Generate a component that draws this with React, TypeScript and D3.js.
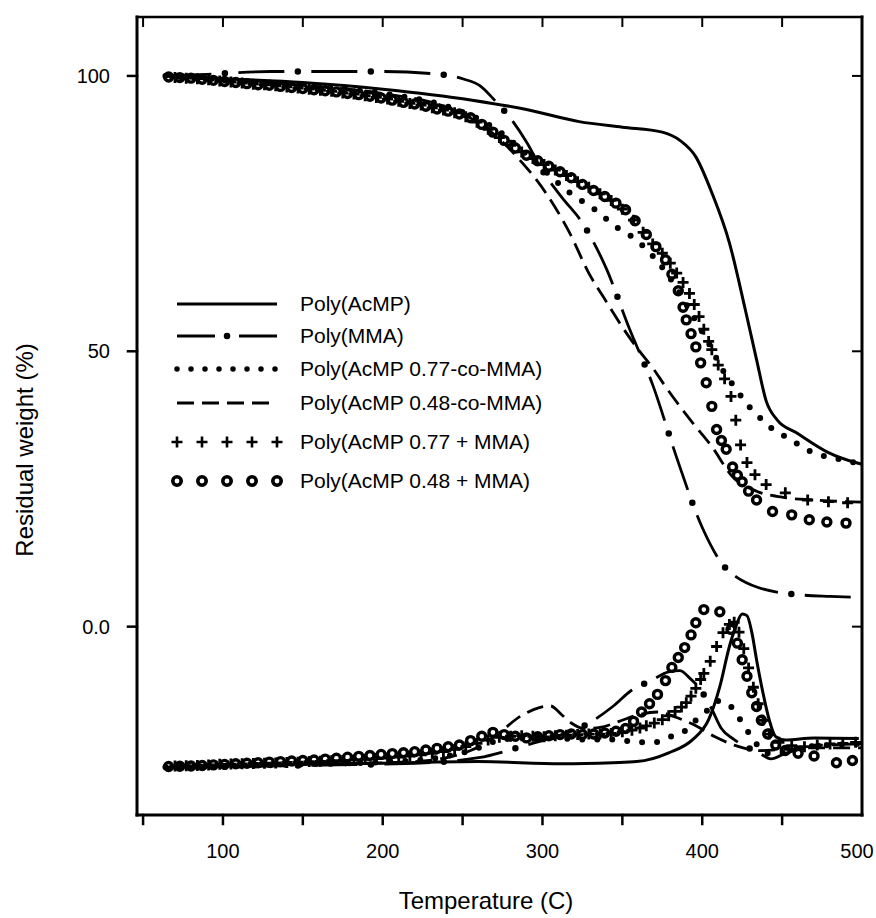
import * as d3 from "d3";
import { useEffect, useRef } from "react";

type Pt = [number, number];

// upper curves: residual weight (%) vs temperature (C)
const acmpTga: Pt[] = [[64,100],[100,99.5],[150,98.8],[200,97.6],[256,95.6],[290,93.9],[323,91.7],[350,90.7],[375,89.8],[386,88.3],[396,85.3],[406,78.8],[417,69.7],[427,57.5],[434,48.5],[440,41],[447,37.5],[459,35.2],[479,31.6],[496,29.8],[500,29.5]];
const mmaTga: Pt[] = [[64,100],[90,100.3],[130,100.8],[200,100.8],[235,100.3],[251,99.4],[261,98.2],[270,95.6],[280,92.3],[290,88],[300,82.8],[312,78],[325,73.3],[340,65],[354,54.4],[369,43.9],[384,30.7],[400,18],[415,10.5],[421,9.1],[435,7.1],[448,6.2],[460,5.8],[480,5.5],[500,5.3]];
const co77Tga: Pt[] = [[64,100],[100,99.2],[150,98.3],[200,96.8],[240,94.5],[270,90.5],[295,84.5],[317,78.8],[333,75.7],[347,72.4],[356,70.8],[370,67],[385,61],[395,56],[405,51],[412,47],[420,43.6],[426,41.2],[431,39.4],[439,37.2],[446,35.4],[454,34.3],[462,32.7],[473,31.2],[481,30.7],[500,29.5]];
const co48Tga: Pt[] = [[64,100],[100,99.2],[150,98.3],[200,96.8],[240,94.3],[265,90.5],[285,85],[302,78.8],[317,71.5],[329,64.2],[340,59],[350,54.4],[360,50.3],[369,47],[377,43.6],[394,37],[406,32.7],[419,27.2],[434,24.6],[450,23.5],[470,23],[500,22.6]];
const mix77Tga: Pt[] = [[70,99.7],[77,99.6],[84,99.5],[91,99.3],[98,99.1],[105,98.9],[112,98.7],[119,98.5],[126,98.4],[133,98.2],[140,98],[147,97.8],[154,97.6],[161,97.4],[168,97.2],[175,96.9],[182,96.7],[189,96.4],[196,96.1],[203,95.8],[210,95.4],[217,95],[224,94.7],[231,94.2],[238,93.8],[245,93.3],[252,92.6],[259,91.6],[266,90.3],[273,88.8],[280,87.4],[287,86.2],[294,85],[301,83.9],[308,82.9],[315,81.9],[322,80.8],[329,79.8],[336,78.6],[343,77.4],[350,75.8],[357,73.8],[363,71.6],[369,69.5],[375,67.8],[380,66],[384,64.2],[388,62.5],[392,60.5],[395,58.5],[398,56.3],[401,54],[404,51.8],[406,50.3],[410,47.5],[414,45],[418,41.8],[421,37.5],[424,33],[428,29.8],[433,27.6],[440,25.8],[452,24.3],[466,23],[479,22.7],[491,22.5]];
const mix48Tga: Pt[] = [[66,99.8],[73,99.7],[80,99.6],[87,99.4],[94,99.2],[101,99],[108,98.8],[115,98.6],[122,98.4],[129,98.3],[136,98.1],[143,97.9],[150,97.7],[157,97.5],[164,97.3],[171,97.1],[178,96.8],[185,96.6],[192,96.3],[199,96],[206,95.6],[213,95.2],[220,94.9],[227,94.5],[234,94],[241,93.6],[248,93.1],[255,92.4],[262,91.2],[269,89.8],[276,88.3],[283,86.9],[290,85.6],[297,84.6],[304,83.6],[311,82.6],[318,81.5],[325,80.3],[332,79.2],[339,78.1],[346,76.9],[352,75.7],[358,73.7],[365,71.2],[371,69],[377,66.6],[381,64],[385,61],[388,58],[390,55.7],[393,53.2],[396,50.8],[399,47.9],[402.5,44.3],[406,40],[409,35.8],[412,33.8],[415,32.2],[419,29],[422,27.5],[425,26.3],[429,24.6],[434,23],[444,20.9],[456,20.3],[467,19.4],[478,19],[490,18.8]];

// lower curves (derivative traces, same axis units)
const acmpDtg: Pt[] = [[64,-25.6],[100,-25.3],[150,-25],[200,-24.8],[260,-24.5],[312,-24.9],[344,-24.7],[359,-24.5],[379,-22.9],[394,-20.5],[404,-16.9],[411,-10.9],[417,-3.6],[421,0],[425,2.3],[428,2],[431,-1],[434,-6],[438,-12],[442,-17],[446,-20],[452,-20.6],[470,-20.2],[498,-20.3]];
const mmaDtg: Pt[] = [[64,-25.6],[150,-25.2],[220,-24.8],[260,-23.8],[290,-21.5],[310,-19.8],[326,-18],[344,-14.5],[356,-11.5],[368,-9.8],[379,-8.2],[386,-8],[392,-9.3],[399,-11.5],[406,-15],[412,-18.5],[420,-20.5],[436,-23],[443,-24],[452,-23],[465,-22],[480,-21.5],[500,-21.3]];
const co77Dtg: Pt[] = [[64,-25.5],[150,-25],[220,-24.3],[255,-22.5],[275,-20.5],[300,-20],[325,-20.5],[345,-20.5],[360,-21],[370,-21],[380,-20],[388,-19.2],[396,-17],[404,-15],[410,-13.5],[416,-14],[424,-17],[432,-20.5],[440,-23],[448,-23],[460,-22],[480,-21.5],[500,-21.3]];
const co48Dtg: Pt[] = [[64,-25.5],[150,-25],[220,-24.5],[255,-22.5],[272,-19.5],[286,-16.3],[298,-14.7],[305,-14.4],[312,-16],[318,-17.5],[326,-18.5],[336,-18.3],[348,-17.2],[360,-16],[372,-15.5],[384,-16.5],[396,-18],[408,-20],[420,-21.5],[436,-22.5],[450,-22.3],[470,-22],[500,-22]];
const mix77Dtg: Pt[] = [[70,-25.3],[77,-25.25],[84,-25.2],[91,-25.1],[98,-25],[105,-24.95],[112,-24.9],[119,-24.85],[126,-24.8],[133,-24.75],[140,-24.65],[147,-24.6],[154,-24.5],[161,-24.45],[168,-24.35],[175,-24.3],[182,-24.2],[189,-24.1],[196,-23.95],[203,-23.85],[210,-23.7],[217,-23.5],[224,-23.3],[231,-23],[238,-22.7],[245,-22.3],[252,-21.8],[259,-21.2],[266,-20.6],[273,-20.1],[280,-19.9],[287,-19.8],[294,-19.9],[301,-20],[308,-19.8],[315,-19.7],[322,-19.6],[329,-19.5],[336,-19.5],[343,-19.4],[350,-19.1],[356,-18.8],[361,-18.4],[365,-18],[370,-17.5],[375,-16.9],[379,-16.2],[383,-15.4],[387,-14.6],[390,-13.8],[393,-12.6],[396,-11.2],[399,-9.6],[401,-8.5],[405,-6.3],[409,-3.6],[413,-1.1],[417,0.4],[420,0.8],[423,-1],[426,-4],[429,-7.5],[432,-11],[435,-14],[438,-17],[442,-19.5],[448,-21],[456,-21.6],[464,-21.8],[472,-21.5],[480,-21.3],[488,-21.2],[496,-21]];
const mix48Dtg: Pt[] = [[66,-25.4],[73,-25.35],[80,-25.3],[87,-25.2],[94,-25.1],[101,-25],[108,-24.9],[115,-24.8],[122,-24.7],[129,-24.6],[136,-24.5],[143,-24.4],[150,-24.3],[157,-24.2],[164,-24.05],[171,-23.9],[178,-23.7],[185,-23.55],[192,-23.4],[199,-23.2],[206,-23.05],[213,-22.9],[220,-22.7],[227,-22.4],[234,-22.1],[241,-21.8],[248,-21.5],[255,-20.7],[262,-19.9],[269,-19.2],[276,-19.6],[283,-19.9],[290,-20.2],[297,-20],[304,-19.8],[311,-19.6],[318,-19.5],[325,-19.6],[332,-19.5],[339,-19.3],[346,-19],[352,-18.5],[357,-17.2],[362,-15.5],[367,-14],[372,-12.3],[377,-9.8],[381,-7.4],[385,-5.6],[389,-3.8],[393,-1.5],[396,0.7],[401,3.1],[411,2.7],[418,-0.5],[422,-3],[425,-6],[428,-9],[431,-12],[434,-14.5],[437,-17],[441,-19.5],[446,-21.5],[452,-22.5],[460,-23],[470,-23.5],[484,-24.7],[494,-24.3]];

const legendLabels = [
  "Poly(AcMP)",
  "Poly(MMA)",
  "Poly(AcMP 0.77-co-MMA)",
  "Poly(AcMP 0.48-co-MMA)",
  "Poly(AcMP 0.77 + MMA)",
  "Poly(AcMP 0.48 + MMA)",
];
const xTicks = [100, 200, 300, 400, 500];
const xMinorTicks = [50, 150, 250, 350, 450];
const yTicks = [0, 50, 100];
const yTickLabels = ["0.0", "50", "100"];

const W = 876;
const H = 918;
const L = 137, R = 862, T = 17, B = 815;
const FONT = "'Liberation Sans', Arial, Helvetica, sans-serif";
const legendRowY = [304, 336, 369, 403, 442, 481];

export default function App() {
  const ref = useRef<SVGSVGElement>(null);

  useEffect(() => {
    const svg = d3.select(ref.current);
    svg.selectAll("*").remove();

    const x = d3.scaleLinear().domain([46.2, 500]).range([L, R]);
    const y = d3.scaleLinear().domain([-34.2, 110.7]).range([B, T]);

    const line = d3
      .line<Pt>()
      .x((d) => x(d[0]))
      .y((d) => y(d[1]))
      .curve(d3.curveMonotoneX);

    const g = svg.append("g").attr("fill", "none").attr("stroke", "#000");

    const drawSolid = (data: Pt[]) =>
      g.append("path").attr("d", line(data)).attr("stroke-width", 3).attr("stroke-linejoin", "round");

    const drawDashDot = (data: Pt[]) => {
      g.append("path").attr("d", line(data)).attr("stroke-width", 2.8).attr("stroke-dasharray", "46 27");
      g.append("path")
        .attr("d", line(data))
        .attr("stroke-width", 6.5)
        .attr("stroke-linecap", "round")
        .attr("stroke-dasharray", "0 73")
        .attr("stroke-dashoffset", 13.5);
    };

    const drawDotted = (data: Pt[]) =>
      g.append("path")
        .attr("d", line(data))
        .attr("stroke-width", 6)
        .attr("stroke-linecap", "round")
        .attr("stroke-dasharray", "0 15");

    const drawDashed = (data: Pt[]) =>
      g.append("path").attr("d", line(data)).attr("stroke-width", 2.8).attr("stroke-dasharray", "17 8");

    const plusPath = "M-5.5,0H5.5M0,-5.5V5.5";
    const drawPlus = (data: Pt[]) =>
      g.append("g")
        .selectAll("path")
        .data(data)
        .join("path")
        .attr("d", plusPath)
        .attr("stroke-width", 2.8)
        .attr("transform", (d) => `translate(${x(d[0])},${y(d[1])})`);

    const drawCircles = (data: Pt[]) =>
      g.append("g")
        .selectAll("circle")
        .data(data)
        .join("circle")
        .attr("cx", (d) => x(d[0]))
        .attr("cy", (d) => y(d[1]))
        .attr("r", 4)
        .attr("fill", "none")
        .attr("stroke-width", 3.4);

    drawSolid(acmpTga);
    drawSolid(acmpDtg);
    drawDashDot(mmaTga);
    drawDashDot(mmaDtg);
    drawDotted(co77Tga);
    drawDotted(co77Dtg);
    drawDashed(co48Tga);
    drawDashed(co48Dtg);
    drawCircles(mix48Tga);
    drawCircles(mix48Dtg);
    drawPlus(mix77Tga);
    drawPlus(mix77Dtg);

    // frame
    const frame = svg.append("g").attr("stroke", "#000").attr("stroke-linecap", "square");
    frame.append("line").attr("x1", L).attr("x2", L).attr("y1", T).attr("y2", B).attr("stroke-width", 3);
    frame.append("line").attr("x1", L).attr("x2", R).attr("y1", B).attr("y2", B).attr("stroke-width", 3);
    frame.append("line").attr("x1", L).attr("x2", R).attr("y1", T).attr("y2", T).attr("stroke-width", 2.5);
    frame.append("line").attr("x1", R).attr("x2", R).attr("y1", T).attr("y2", B).attr("stroke-width", 3);

    const allX = [...xMinorTicks, ...xTicks].filter((v) => v < 500);
    frame.selectAll(".bt").data(allX).join("line")
      .attr("x1", (d) => x(d)).attr("x2", (d) => x(d))
      .attr("y1", B).attr("y2", B + 9).attr("stroke-width", 2.5);
    frame.selectAll(".tt").data(allX).join("line")
      .attr("x1", (d) => x(d)).attr("x2", (d) => x(d))
      .attr("y1", T).attr("y2", T + 9).attr("stroke-width", 2);
    frame.selectAll(".lt").data(yTicks).join("line")
      .attr("x1", L - 9).attr("x2", L)
      .attr("y1", (d) => y(d)).attr("y2", (d) => y(d)).attr("stroke-width", 2.5);
    frame.selectAll(".rt").data(yTicks).join("line")
      .attr("x1", R - 9).attr("x2", R)
      .attr("y1", (d) => y(d)).attr("y2", (d) => y(d)).attr("stroke-width", 2);

    const txt = svg.append("g").attr("font-family", FONT).attr("fill", "#000");
    txt.selectAll(".xl").data(xTicks).join("text")
      .attr("x", (d) => Math.min(x(d), 857)).attr("y", 858)
      .attr("text-anchor", "middle").attr("font-size", 20)
      .text((d) => d);
    txt.selectAll(".yl").data(yTicks).join("text")
      .attr("x", 110).attr("y", (d) => y(d) + 7)
      .attr("text-anchor", "end").attr("font-size", 20)
      .text((d, i) => yTickLabels[i]);
    txt.append("text")
      .attr("x", 486).attr("y", 909)
      .attr("text-anchor", "middle").attr("font-size", 24)
      .text("Temperature (C)");
    txt.append("text")
      .attr("transform", "translate(33,450) rotate(-90)")
      .attr("text-anchor", "middle").attr("font-size", 24)
      .text("Residual weight (%)");

    // legend
    const lg = svg.append("g").attr("stroke", "#000").attr("fill", "none");
    const lx0 = 177, lx1 = 277;
    const seg = (i: number) => `M${lx0},${legendRowY[i]}H${lx1}`;
    lg.append("path").attr("d", seg(0)).attr("stroke-width", 2.8);
    lg.append("path").attr("d", seg(1)).attr("stroke-width", 2.8).attr("stroke-dasharray", "38 24");
    lg.append("path").attr("d", seg(1)).attr("stroke-width", 6.5).attr("stroke-linecap", "round")
      .attr("stroke-dasharray", "0 62").attr("stroke-dashoffset", 12);
    lg.append("path").attr("d", seg(2)).attr("stroke-width", 5.5).attr("stroke-linecap", "round")
      .attr("stroke-dasharray", "0 14");
    lg.append("path").attr("d", seg(3)).attr("stroke-width", 2.8).attr("stroke-dasharray", "17 8");
    const markX = d3.range(5).map((i) => lx0 + i * 25);
    lg.selectAll(".lp").data(markX).join("path")
      .attr("d", plusPath).attr("stroke-width", 2.6)
      .attr("transform", (d) => `translate(${d},${legendRowY[4]})`);
    lg.selectAll(".lc").data(markX).join("circle")
      .attr("cx", (d) => d).attr("cy", legendRowY[5]).attr("r", 4.2)
      .attr("fill", "#fff").attr("stroke-width", 3.6);

    txt.selectAll(".lt").data(legendLabels).join("text")
      .attr("x", 300).attr("y", (d, i) => legendRowY[i] + 7)
      .attr("font-size", 21)
      .text((d) => d);
  }, []);

  return (
    <svg
      ref={ref}
      width={W}
      height={H}
      style={{ position: "absolute", left: 0, top: 0, background: "#fff" }}
    />
  );
}
